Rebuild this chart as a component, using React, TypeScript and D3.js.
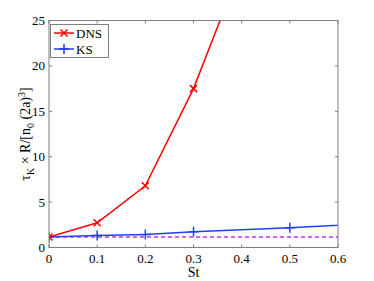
import React from "react";
import * as d3 from "d3";

const stValues = [0, 0.1, 0.2, 0.3, 0.5];
const dnsValues = [1.15, 2.72, 6.8, 17.5, 44.7];
const ksSt = [0, 0.1, 0.2, 0.3, 0.5, 1.0];
const ksValues = [1.15, 1.32, 1.43, 1.73, 2.17, 3.6];
const ksMarkers = 5; // points drawn with markers
const refLevel = 1.15;
const xTicks = [0, 0.1, 0.2, 0.3, 0.4, 0.5, 0.6];
const yTicks = [0, 5, 10, 15, 20, 25];

const W = 374;
const H = 281;
const margin = { left: 49, right: 36, top: 20.5, bottom: 33.5 };
const font = "'Liberation Serif', 'Times New Roman', serif";

export default function App() {
  const x = d3.scaleLinear().domain([0, 0.6]).range([margin.left, W - margin.right]);
  const y = d3.scaleLinear().domain([0, 25]).range([H - margin.bottom, margin.top]);
  const [x0, x1] = x.range();
  const [y0, y1] = y.range();

  const dnsPts: [number, number][] = stValues.map((s, i) => [s, dnsValues[i]]);
  const ksPts: [number, number][] = ksSt.map((s, i) => [s, ksValues[i]]);
  const line = d3.line<[number, number]>().x((d) => x(d[0])).y((d) => y(d[1]));

  const red = "#ff0000";
  const blue = "#2040ff";
  const axisCol = "#7f7f7f";

  const cross = (cx: number, cy: number, key: string | number) => (
    <path key={key} d={`M${cx - 3.5},${cy - 3.5}L${cx + 3.5},${cy + 3.5}M${cx - 3.5},${cy + 3.5}L${cx + 3.5},${cy - 3.5}`} stroke={red} strokeWidth={1.5} />
  );
  const plus = (cx: number, cy: number, key: string | number) => (
    <path key={key} d={`M${cx - 5},${cy}L${cx + 5},${cy}M${cx},${cy - 5}L${cx},${cy + 5}`} stroke={blue} strokeWidth={1.5} />
  );

  return (
    <svg width={W} height={H} style={{ position: "absolute", left: 0, top: 0, background: "#fff" }}>
      <defs>
        <clipPath id="plotclip">
          <rect x={x0} y={y1} width={x1 - x0} height={y0 - y1} />
        </clipPath>
      </defs>
      <rect x={0} y={0} width={W} height={H} fill="#fff" />

      {/* data */}
      <g clipPath="url(#plotclip)">
        <line x1={x0} x2={x1} y1={y(refLevel)} y2={y(refLevel)} stroke="#c030ff" strokeWidth={1.5} strokeDasharray="4,3" />
        <path d={line(ksPts) || ""} fill="none" stroke={blue} strokeWidth={1.5} />
        <path d={line(dnsPts) || ""} fill="none" stroke={red} strokeWidth={1.5} />
        {ksPts.slice(0, ksMarkers).map((d, i) => plus(x(d[0]), y(d[1]), "k" + i))}
        {dnsPts.map((d, i) => cross(x(d[0]), y(d[1]), "d" + i))}
      </g>

      {/* axes box */}
      <rect x={x0} y={y1} width={x1 - x0} height={y0 - y1} fill="none" stroke={axisCol} strokeWidth={1} />
      {xTicks.map((t) => (
        <g key={"x" + t}>
          <line x1={x(t)} x2={x(t)} y1={y0} y2={y0 - 3} stroke={axisCol} />
          <line x1={x(t)} x2={x(t)} y1={y1} y2={y1 + 3} stroke={axisCol} />
          <text x={x(t)} y={y0 + 15} textAnchor="middle" fontFamily={font} fontSize={13} fill="#000">
            {t}
          </text>
        </g>
      ))}
      {yTicks.map((t) => (
        <g key={"y" + t}>
          <line x1={x0} x2={x0 + 3} y1={y(t)} y2={y(t)} stroke={axisCol} />
          <line x1={x1} x2={x1 - 3} y1={y(t)} y2={y(t)} stroke={axisCol} />
          <text x={x0 - 4} y={y(t) + 4.5} textAnchor="end" fontFamily={font} fontSize={13} fill="#000">
            {t}
          </text>
        </g>
      ))}

      {/* axis labels */}
      <text x={(x0 + x1) / 2} y={y0 + 29} textAnchor="middle" fontFamily={font} fontSize={14} fill="#000">
        St
      </text>
      <text transform={`translate(30,${(y0 + y1) / 2}) rotate(-90)`} textAnchor="middle" fontFamily={font} fontSize={14} fill="#000">
        τ<tspan dy={4} fontSize={10}>K</tspan>
        <tspan dy={-4}> × R/[n</tspan>
        <tspan dy={4} fontSize={10}>0</tspan>
        <tspan dy={-4}> (2a)</tspan>
        <tspan dy={-5} fontSize={10}>3</tspan>
        <tspan dy={5}>]</tspan>
      </text>

      {/* legend */}
      <rect x={50.5} y={24.5} width={58} height={33} fill="#fff" stroke={axisCol} />
      <line x1={54} x2={74} y1={33} y2={33} stroke={red} strokeWidth={1.5} />
      {cross(64, 33, "lg1")}
      <text x={76} y={37.5} fontFamily={font} fontSize={13} fill="#000">DNS</text>
      <line x1={54} x2={74} y1={49} y2={49} stroke={blue} strokeWidth={1.5} />
      {plus(64, 49, "lg2")}
      <text x={76} y={53.5} fontFamily={font} fontSize={13} fill="#000">KS</text>
    </svg>
  );
}
